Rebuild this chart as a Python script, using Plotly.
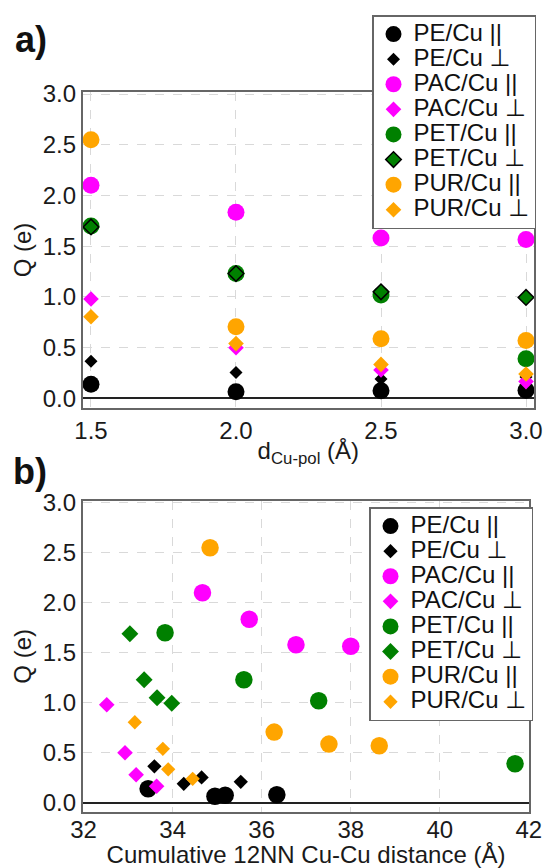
import plotly.graph_objects as go

# ---------------- data ----------------
d_cu_pol = [1.5, 2.0, 2.5, 3.0]

labels = ["PE/Cu ||", "PE/Cu \u22a5", "PAC/Cu ||", "PAC/Cu \u22a5",
          "PET/Cu ||", "PET/Cu \u22a5", "PUR/Cu ||", "PUR/Cu \u22a5"]

pe_par_q = [0.14, 0.065, 0.075, 0.08]
pe_perp_q = [0.365, 0.254, 0.19, 0.21]
pac_par_q = [2.10, 1.835, 1.58, 1.565]
pac_perp_q = [0.98, 0.50, 0.28, 0.165]
pet_par_q = [1.70, 1.23, 1.02, 0.39]
pet_perp_q = [1.69, 1.23, 1.05, 0.995]
pur_par_q = [2.55, 0.707, 0.587, 0.57]
pur_perp_q = [0.805, 0.54, 0.335, 0.24]

pe_par_x = [33.45, 34.95, 35.18, 36.34]
pe_perp_x = [33.59, 34.65, 34.25, 35.53]
pac_par_x = [34.67, 35.72, 36.77, 38.00]
pac_perp_x = [32.52, 32.93, 33.18, 33.64]
pet_par_x = [33.83, 35.60, 37.28, 41.69]
pet_perp_x = [33.04, 33.36, 33.65, 33.98]
pur_par_x = [34.84, 36.28, 37.51, 38.64]
pur_perp_x = [33.15, 33.78, 33.90, 34.45]

q_series = [pe_par_q, pe_perp_q, pac_par_q, pac_perp_q,
            pet_par_q, pet_perp_q, pur_par_q, pur_perp_q]
x_series = [pe_par_x, pe_perp_x, pac_par_x, pac_perp_x,
            pet_par_x, pet_perp_x, pur_par_x, pur_perp_x]

colors = ["black", "black", "#ff00ff", "#ff00ff",
          "#008000", "#008000", "#ffa500", "#ffa500"]
symbols = ["circle", "diamond"] * 4

x_ticks_a = [1.5, 2.0, 2.5, 3.0]
x_ticks_b = [32, 34, 36, 38, 40, 42]
y_ticks = [0.0, 0.5, 1.0, 1.5, 2.0, 2.5, 3.0]

# ---------------- styles ----------------
FONT = "Liberation Sans, Arial, DejaVu Sans, sans-serif"
TXT = "#1a1a1a"
size_a = [17, 10, 17, 12, 17, 12, 17, 12]
size_b = [17.5, 11, 17.5, 12, 17.5, 13, 17.5, 11]
line_a = [0, 0, 0, 0, 0, 1.5, 0, 0]


def leg_label(s):
    return '<span style="font-size:24px">' + s + '</span>'


fig = go.Figure()

for i in range(8):
    fig.add_trace(go.Scatter(
        x=d_cu_pol, y=q_series[i], mode="markers", name=leg_label(labels[i]),
        marker=dict(symbol=symbols[i], color=colors[i], size=size_a[i],
                    line=dict(color="black", width=line_a[i])),
        xaxis="x", yaxis="y", legend="legend"))

for i in range(8):
    fig.add_trace(go.Scatter(
        x=x_series[i], y=q_series[i], mode="markers", name=leg_label(labels[i]),
        marker=dict(symbol=symbols[i], color=colors[i], size=size_b[i],
                    line=dict(width=0)),
        xaxis="x2", yaxis="y2", legend="legend2"))

W, H = 545, 868
TICKF = dict(size=24, color=TXT, family=FONT)
TITLEF = dict(size=24, color=TXT, family=FONT)

axis_common = dict(
    showline=True, linecolor="#666", linewidth=1.5, mirror=True,
    showgrid=True, gridcolor="#d9d9d9", gridwidth=1, griddash="dash",
    ticks="", tickfont=TICKF, zeroline=False, automargin=False,
)

yaxis_common = dict(axis_common)
yaxis_common.update(zeroline=True, zerolinecolor="#222", zerolinewidth=2,
                    tickvals=y_ticks, tickformat=".1f",
                    title=dict(text="Q (e)", font=TITLEF, standoff=4))

fig.update_layout(
    width=W, height=H,
    margin=dict(l=0, r=0, t=0, b=0, pad=0, autoexpand=False),
    paper_bgcolor="white", plot_bgcolor="white",
    font=dict(family=FONT, color=TXT),
    xaxis=dict(axis_common, domain=[82.7 / W, 534 / W], range=[1.4714, 3.0276],
               tickvals=x_ticks_a, tickformat=".1f", anchor="y",
               title=dict(text="d<sub>Cu-pol</sub> (\u00c5)", font=TITLEF, standoff=0)),
    yaxis=dict(yaxis_common, domain=[1 - 408 / H, 1 - 92 / H], range=[-0.095, 3.02],
               anchor="x"),
    xaxis2=dict(axis_common, domain=[82.7 / W, 529.3 / W], range=[31.98, 42.01],
                tickvals=x_ticks_b, anchor="y2", ticklabelstandoff=-5,
                title=dict(text="Cumulative 12NN Cu-Cu distance (\u00c5)",
                           font=TITLEF, standoff=5)),
    yaxis2=dict(yaxis_common, domain=[1 - 812 / H, 1 - 500.7 / H], range=[-0.092, 3.02],
                anchor="x2"),
    legend=dict(x=372 / W, y=1 - 15 / H, xanchor="left", yanchor="top",
                bgcolor="white", bordercolor="#666", borderwidth=1.5,
                font=dict(size=17, color="#111", family=FONT), traceorder="normal"),
    legend2=dict(x=369 / W, y=1 - 507 / H, xanchor="left", yanchor="top",
                 bgcolor="white", bordercolor="#666", borderwidth=1.5,
                 font=dict(size=17, color="#111", family=FONT), traceorder="normal"),
    annotations=[
        dict(text="<b>a)</b>", x=13 / W, y=1 - 17 / H, xref="paper", yref="paper",
             xanchor="left", yanchor="top", showarrow=False,
             font=dict(size=36, color="#111", family=FONT)),
        dict(text="<b>b)</b>", x=11 / W, y=1 - 449 / H, xref="paper", yref="paper",
             xanchor="left", yanchor="top", showarrow=False,
             font=dict(size=36, color="#111", family=FONT)),
    ],
)

fig.write_html("out.html")
